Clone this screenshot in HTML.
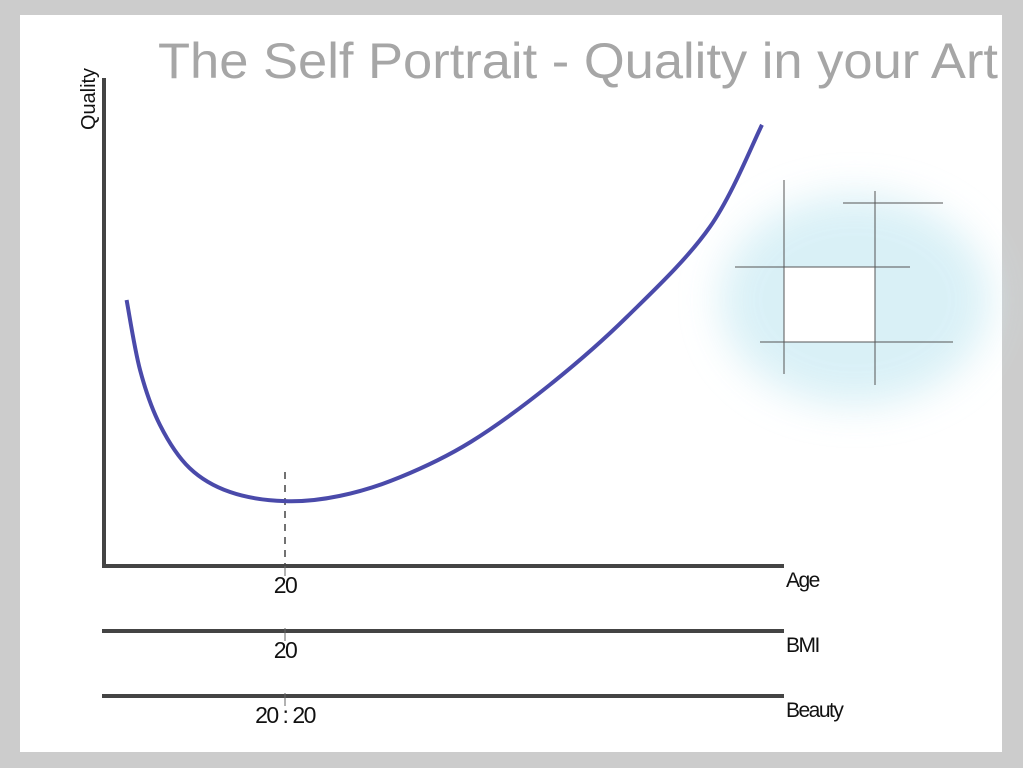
<!DOCTYPE html>
<html><head><meta charset="utf-8"><style>
html,body{margin:0;padding:0;background:#cccccc;}
svg{display:block;}
text{font-family:"Liberation Sans",sans-serif;}
</style></head><body>
<svg id="chart" width="1023" height="768" viewBox="0 0 1023 768" xmlns="http://www.w3.org/2000/svg">
<defs>
<filter id="blur" x="-50%" y="-50%" width="200%" height="200%"><feGaussianBlur stdDeviation="20"/></filter>
</defs>
<rect x="0" y="0" width="1023" height="768" fill="#cccccc"/>
<rect x="20" y="15" width="982" height="737" fill="#ffffff"/>
<text x="158" y="78" font-size="50" fill="#a6a6a6" textLength="840" lengthAdjust="spacingAndGlyphs">The Self Portrait - Quality in your Art</text>
<g>
<ellipse cx="855" cy="300" rx="135" ry="105" fill="#d3eef5" opacity="0.85" filter="url(#blur)"/>
<rect x="784" y="267" width="91" height="75" fill="#fff"/>
<g stroke="#555" stroke-width="1">
<line x1="784" y1="180" x2="784" y2="374"/>
<line x1="875" y1="191" x2="875" y2="385"/>
<line x1="843" y1="203" x2="943" y2="203"/>
<line x1="735" y1="267" x2="910" y2="267"/>
<line x1="760" y1="342" x2="953" y2="342"/>
</g>
</g>
<g id="axes"></g>
<path id="curve" fill="none" stroke="#4a4aaa" stroke-width="4"/>
</svg>
<script>
const ages = [2.4,3.9,6.1,9.4,13.9,20,26.1,32.8,40.6,49.4,58,67.2,73];
const quality = [55.2,40.6,29.2,20.2,15.2,13.3,14.4,18.3,25.6,37.5,51.7,70.4,91.7];
const tickAges = [20];
const tickLabels = ["20","20","20 : 20"];
const axisNames = ["Age","BMI","Beauty"];

const xS = a => 105 + a*9;
const yS = q => 565 - q*4.8;
const NS = "http://www.w3.org/2000/svg";
const g = document.getElementById('axes');
function mk(tag, attrs){const e=document.createElementNS(NS,tag);for(const k in attrs)e.setAttribute(k,attrs[k]);return e;}

let yAxis = mk('line',{x1:104,y1:78,x2:104,y2:567,stroke:'#444','stroke-width':4});


g.appendChild(yAxis);
let yt = mk('text',{x:0,y:0,'font-size':20,fill:'#111',transform:'translate(95,130) rotate(-90)',textLength:62,lengthAdjust:'spacingAndGlyphs'});
yt.textContent='Quality';


g.appendChild(yt);

const axisY = [566,631,696];
axisNames.forEach((n,i)=>{
  const y = axisY[i];
  let l = mk('line',{x1:102,y1:y,x2:784,y2:y,stroke:'#444','stroke-width':4});
  
  
  g.appendChild(l);
  let t = mk('text',{x:786,y:y+21,'font-size':21,fill:'#111','letter-spacing':'-1.5'});
  t.textContent=n;
  
  
  g.appendChild(t);
  tickAges.forEach(a=>{
    let tk = mk('line',{x1:xS(a),y1:y-3,x2:xS(a),y2:y+10,stroke:'#666','stroke-width':1});
    
    
    g.appendChild(tk);
    let tl = mk('text',{x:xS(a),y:y+27,'font-size':23,fill:'#111','text-anchor':'middle','letter-spacing':'-1.5'});
    tl.textContent=tickLabels[i];
    
    
    g.appendChild(tl);
  });
});
let guide = mk('line',{x1:xS(tickAges[0]),y1:472,x2:xS(tickAges[0]),y2:566,stroke:'#444','stroke-width':1.5,'stroke-dasharray':'7,6'});


g.appendChild(guide);

const pts = ages.map((a,i)=>[xS(a),yS(quality[i])]);
let d = 'M'+pts[0][0]+','+pts[0][1];
for(let i=0;i<pts.length-1;i++){
  const p0=pts[Math.max(0,i-1)],p1=pts[i],p2=pts[i+1],p3=pts[Math.min(pts.length-1,i+2)];
  const c1=[p1[0]+(p2[0]-p0[0])/6,p1[1]+(p2[1]-p0[1])/6];
  const c2=[p2[0]-(p3[0]-p1[0])/6,p2[1]-(p3[1]-p1[1])/6];
  d+=' C'+c1[0]+','+c1[1]+' '+c2[0]+','+c2[1]+' '+p2[0]+','+p2[1];
}
document.getElementById('curve').setAttribute('d',d);
</script>
</body></html>
